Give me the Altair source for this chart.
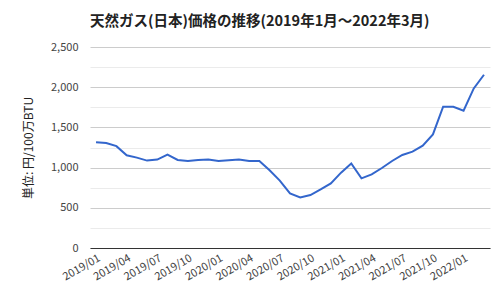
import altair as alt
import pandas as pd

months = [f"{y}/{m:02d}" for y in (2019, 2020, 2021, 2022) for m in range(1, 13)][:39]
prices = [1316, 1305, 1267, 1153, 1124, 1087, 1100, 1162, 1095, 1083,
          1095, 1100, 1083, 1092, 1100, 1083, 1083, 967, 838, 678,
          628, 659, 729, 803, 937, 1052, 866, 916, 995, 1082,
          1157, 1198, 1272, 1413, 1757, 1757, 1708, 1985, 2155]
tick_labels = months[::3]
y_ticks = list(range(0, 2501, 250))

df = pd.DataFrame({"month": months, "price": prices})
FONT = "Noto Sans CJK JP"

chart = alt.Chart(df).mark_line(color="#3366cc", strokeWidth=2).encode(
    x=alt.X("month:O", sort=None, title=None,
            scale=alt.Scale(type="point", padding=0.59),
            axis=alt.Axis(values=tick_labels, labelAngle=-30, labelFontSize=11,
                          labelColor="#444", labelPadding=4, ticks=False,
                          domainColor="#333", domainWidth=1.2, grid=False,
                          labelFont=FONT, labelOverlap=False)),
    y=alt.Y("price:Q", title="単位: 円/100万BTU",
            scale=alt.Scale(domain=[0, 2500], nice=False),
            axis=alt.Axis(values=y_ticks, domain=False, ticks=False,
                          labelExpr="datum.value % 500 == 0 ? format(datum.value, ',') : ''",
                          gridColor=alt.condition("datum.value % 500 == 0", alt.value("#cccccc"), alt.value("#ebebeb")),
                          labelFontSize=11, labelColor="#444", labelPadding=12,
                          titleFontSize=12, titleColor="#222", titleFontWeight="normal",
                          titlePadding=15, labelFont=FONT, titleFont=FONT)),
).properties(
    width=400, height=201,
    title=alt.TitleParams("天然ガス(日本)価格の推移(2019年1月～2022年3月)", anchor="start",
                          frame="group", fontSize=14.5, fontWeight="bold", color="#222",
                          font=FONT, offset=12),
    autosize=alt.AutoSizeParams(type="none"),
    padding={"left": 90, "top": 47, "right": 10, "bottom": 52},
).configure_view(stroke=None)

chart.save("out.html", embed_options={"renderer": "svg", "actions": False})
